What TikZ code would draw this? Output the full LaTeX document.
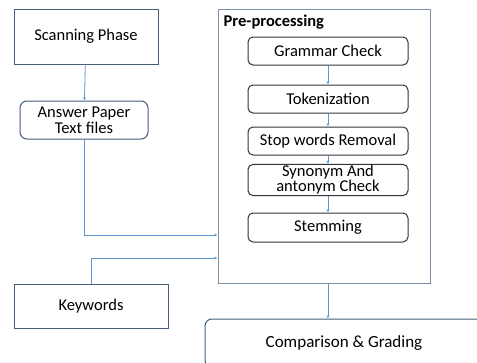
\documentclass[tikz,border=0pt]{standalone}
\usepackage{fontspec}
\setmainfont{Carlito}
\usepackage{tikz}
\usetikzlibrary{arrows.meta}
\definecolor{boxline}{RGB}{70,95,125}
\definecolor{flow}{RGB}{91,150,205}
\tikzstyle{stage} = [draw=boxline, line width=1pt, rectangle, align=center, font={\fontsize{16.5}{18}\selectfont}]
\tikzstyle{stepbox} = [draw=black!80, line width=1pt, rectangle, rounded corners=5pt, minimum width=160pt, align=center, font={\fontsize{16.5}{15}\selectfont}]
\tikzstyle{soft} = [draw=boxline, rounded corners=7pt]
\tikzstyle{flowline} = [draw=flow, line width=0.8pt, -{Latex[length=3pt,width=3pt]}]

\begin{document}
\begin{tikzpicture}[x=1pt,y=-1pt]
    \clip (0,0) rectangle (477,362);
    \fill[white] (0,0) rectangle (477,362);
    \node[stage,minimum width=144pt,minimum height=55pt](scan) at (86,36.5){Scanning Phase};
    \node[stage,soft,minimum width=128pt,minimum height=38pt,font={\fontsize{16.5}{16}\selectfont}](paper) at (84,120){Answer Paper\\Text files};
    \node[stage,minimum width=154pt,minimum height=44pt](keywords) at (91,306){Keywords};
    \node[draw=boxline!70, line width=1pt, minimum width=212pt, minimum height=274pt](pre) at (324,146){};
    \node[anchor=north west, inner sep=0pt, font={\bfseries\fontsize{16.5}{18}\selectfont}](title) at ([xshift=6pt,yshift=-6pt]pre.north west){Pre-processing};
    \node[stepbox,minimum height=28pt](grammar) at (328,51){Grammar Check};
    \node[stepbox,minimum height=28pt](token) at (328,99){Tokenization};
    \node[stepbox,minimum height=28pt](stop) at (328,141){Stop words Removal};
    \node[stepbox,minimum height=26pt,inner sep=1pt](syn) at (328,180){Synonym And\\antonym Check};
    \node[stepbox,minimum height=29pt](stem) at (328,227.5){Stemming};
    \node[stage,soft,minimum width=278pt,minimum height=48pt,font={\fontsize{17}{18}\selectfont}](grade) at (344,343){Comparison \& Grading};
    \coordinate (in1) at (pre.west |- 0,235);
    \coordinate (in2) at (pre.west |- 0,258);
    \coordinate (out1) at (pre.south -| stem.south);
    \coordinate (out2) at (grade.north -| stem.south);
    \draw[flowline](scan)--(paper);
    \draw[flowline](paper.south)|-(in1);
    \draw[flowline](keywords.north)|-(in2);
    \draw[flowline](grammar)--(token);
    \draw[flowline](token)--(stop);
    \draw[flowline](stop)--(syn);
    \draw[flowline](syn)--(stem);
    \draw[flowline](out1)--(out2);
  \end{tikzpicture}
\end{document}
